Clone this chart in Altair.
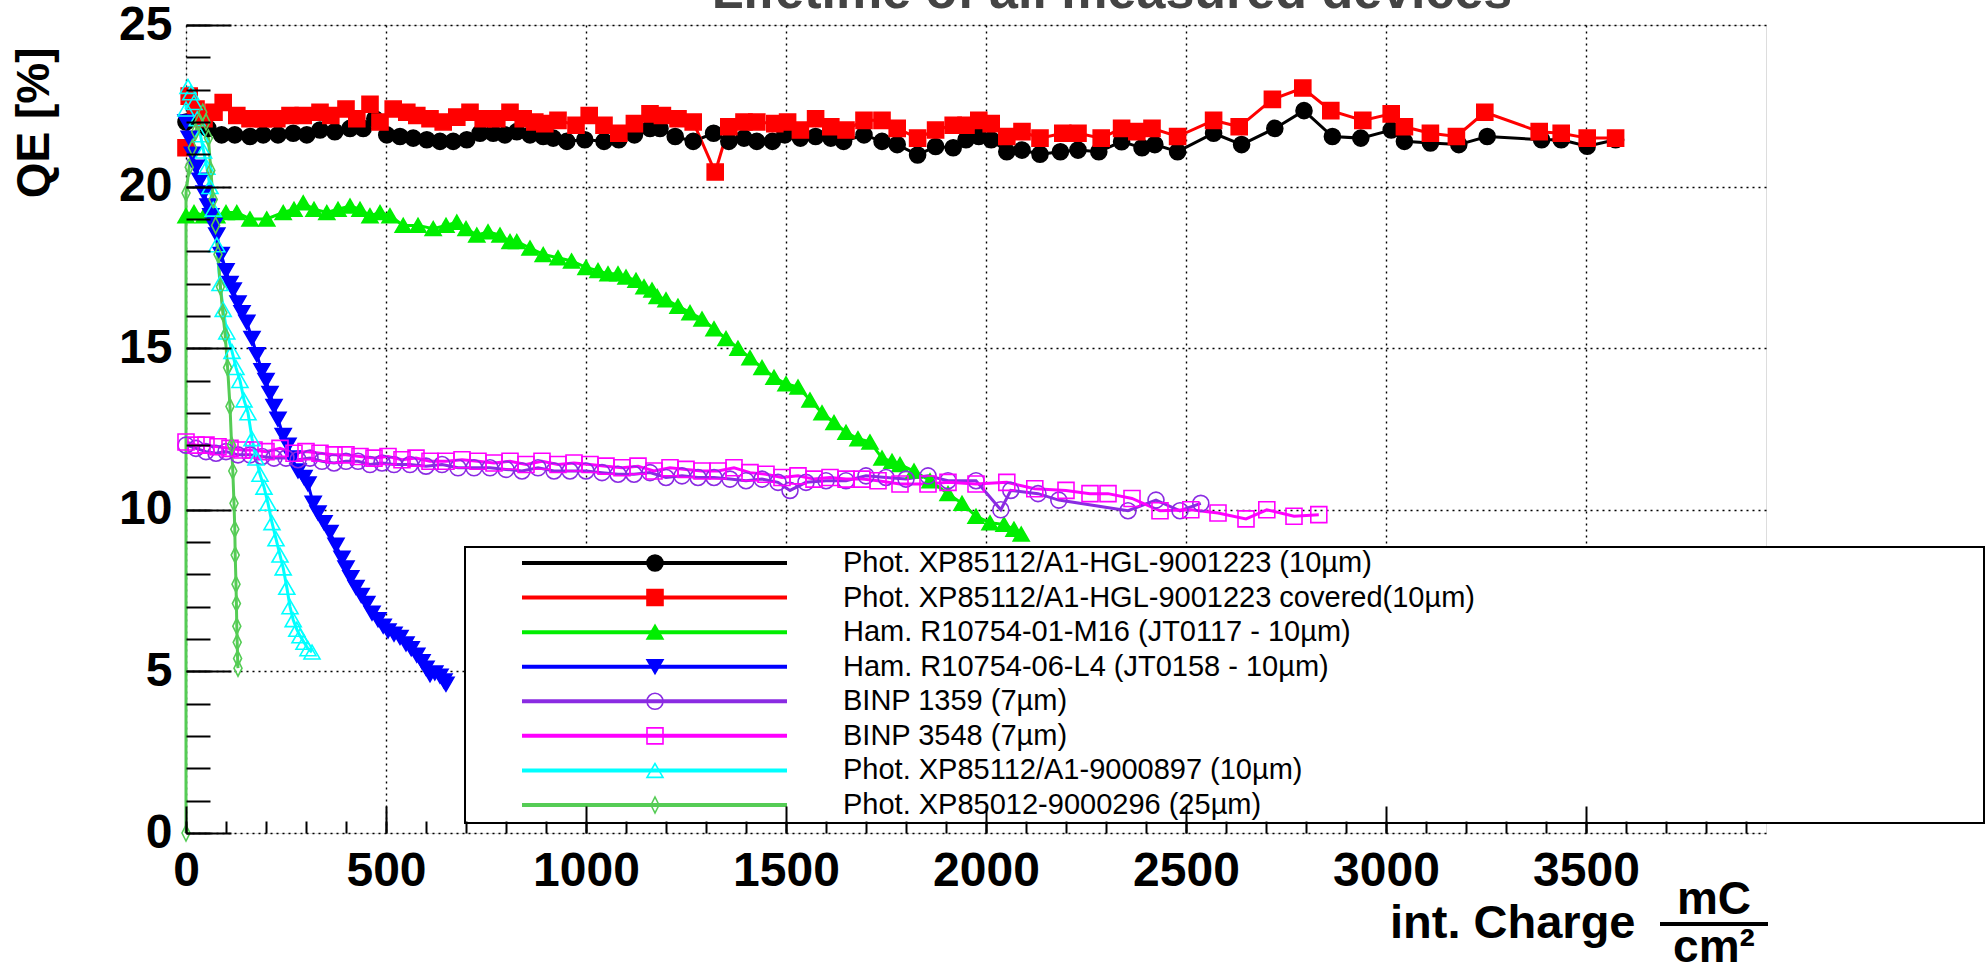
import altair as alt
import pandas as pd

# ---------------- data ----------------
TITLE = "Lifetime of all measured devices"
SERIES = [
    "Phot. XP85112/A1-HGL-9001223 (10µm)",
    "Phot. XP85112/A1-HGL-9001223 covered(10µm)",
    "Ham. R10754-01-M16 (JT0117 - 10µm)",
    "Ham. R10754-06-L4 (JT0158 - 10µm)",
    "BINP 1359 (7µm)",
    "BINP 3548 (7µm)",
    "Phot. XP85112/A1-9000897 (10µm)",
    "Phot. XP85012-9000296 (25µm)",
]
COLORS = ["#000000", "#ff0000", "#00ee00", "#0000ff", "#8a2be2", "#ff00ff", "#00ffff", "#55cc55"]
THIN_DIAMOND = "M0,-1L0.5,0L0,1L-0.5,0Z"
SHAPES = ["circle", "square", "triangle-up", "triangle-down", "circle", "square", "triangle-up", THIN_DIAMOND]
FILLED = [True, True, True, True, False, False, False, False]
SIZES = [256, 256, 144, 144, 225, 225, 289, 144]

BLACK = [(0, 22.0), (25, 22.2), (55, 21.8), (89, 21.6), (122, 21.6), (160, 21.55), (193, 21.6), (230, 21.6),
         (268, 21.65), (302, 21.6), (335, 21.75), (372, 21.7), (410, 21.8), (443, 21.8), (472, 22.1), (502, 21.6),
         (535, 21.55), (568, 21.5), (602, 21.45), (635, 21.4), (668, 21.4), (702, 21.45), (735, 21.65), (768, 21.65),
         (797, 21.6), (827, 21.7), (860, 21.6), (893, 21.55), (918, 21.5), (952, 21.4), (997, 21.45), (1045, 21.4),
         (1082, 21.45), (1121, 21.6), (1160, 21.8), (1185, 21.8), (1223, 21.55), (1268, 21.4), (1319, 21.65),
         (1357, 21.4), (1395, 21.5), (1427, 21.4), (1466, 21.4), (1497, 21.6), (1536, 21.5), (1574, 21.55),
         (1612, 21.5), (1644, 21.4), (1695, 21.6), (1740, 21.4), (1778, 21.3), (1829, 20.98), (1874, 21.24),
         (1918, 21.2), (1950, 21.45), (1982, 21.55), (2013, 21.45), (2052, 21.08), (2090, 21.13), (2135, 21.0),
         (2186, 21.08), (2230, 21.13), (2282, 21.08), (2339, 21.39), (2390, 21.2), (2422, 21.3), (2479, 21.08),
         (2569, 21.65), (2639, 21.3), (2722, 21.8), (2795, 22.35), (2866, 21.55), (2937, 21.5), (3013, 21.75),
         (3046, 21.4), (3111, 21.35), (3182, 21.3), (3253, 21.55), (3389, 21.45), (3438, 21.45), (3503, 21.25),
         (3574, 21.45)]

RED = [(0, 21.2), (8, 22.8), (25, 22.4), (45, 22.1), (70, 22.3), (93, 22.6), (127, 22.2), (160, 22.1), (193, 22.1),
       (227, 22.1), (260, 22.2), (293, 22.2), (335, 22.3), (362, 22.2), (400, 22.4), (427, 22.1), (460, 22.55),
       (485, 22.0), (518, 22.4), (552, 22.3), (577, 22.2), (610, 22.1), (643, 22.0), (677, 22.15), (710, 22.3),
       (743, 22.1), (777, 22.1), (810, 22.3), (843, 22.1), (872, 22.0), (897, 21.95), (930, 22.05), (975, 21.9),
       (1008, 22.2), (1045, 21.9), (1082, 21.65), (1121, 21.95), (1160, 22.25), (1191, 22.2), (1230, 22.1),
       (1268, 22.0), (1323, 20.45), (1357, 21.85), (1395, 22.0), (1427, 22.0), (1472, 21.95), (1504, 22.0),
       (1536, 21.75), (1574, 22.1), (1612, 21.85), (1650, 21.75), (1695, 22.05), (1740, 22.05), (1778, 21.8),
       (1829, 21.5), (1874, 21.75), (1918, 21.9), (1950, 21.9), (1982, 22.05), (2013, 21.95), (2052, 21.55),
       (2090, 21.7), (2135, 21.5), (2192, 21.65), (2230, 21.65), (2288, 21.5), (2339, 21.8), (2377, 21.7),
       (2415, 21.8), (2479, 21.55), (2569, 22.05), (2633, 21.85), (2716, 22.7), (2792, 23.05), (2862, 22.35),
       (2942, 22.05), (3013, 22.25), (3046, 21.85), (3111, 21.65), (3176, 21.55), (3247, 22.3), (3383, 21.7),
       (3438, 21.65), (3503, 21.5), (3574, 21.5)]

GREEN = [(0, 19.1), (20, 19.2), (45, 19.1), (77, 19.1), (100, 19.2), (127, 19.2), (160, 19.0), (202, 19.0),
         (243, 19.2), (270, 19.3), (293, 19.5), (320, 19.3), (352, 19.2), (380, 19.3), (410, 19.4), (435, 19.3),
         (460, 19.1), (485, 19.2), (510, 19.1), (543, 18.8), (580, 18.8), (618, 18.7), (650, 18.8), (677, 18.9),
         (700, 18.7), (727, 18.5), (755, 18.6), (785, 18.5), (810, 18.3), (827, 18.3), (860, 18.1), (893, 17.9),
         (930, 17.8), (964, 17.7), (1000, 17.5), (1030, 17.4), (1055, 17.3), (1080, 17.3), (1100, 17.2),
         (1125, 17.1), (1145, 16.9), (1165, 16.8), (1178, 16.6), (1200, 16.5), (1230, 16.3), (1260, 16.1),
         (1290, 15.9), (1320, 15.6), (1350, 15.3), (1380, 15.0), (1410, 14.7), (1440, 14.4), (1470, 14.1),
         (1500, 13.9), (1530, 13.8), (1560, 13.4), (1590, 13.0), (1620, 12.7), (1650, 12.4), (1680, 12.2),
         (1710, 12.1), (1740, 11.6), (1765, 11.5), (1785, 11.4), (1820, 11.2), (1860, 10.9), (1905, 10.5),
         (1940, 10.2), (1975, 9.8), (2010, 9.6), (2045, 9.55), (2070, 9.4), (2088, 9.25)]

BLUE = [(0, 22.0), (8, 21.5), (16, 21.0), (25, 20.6), (35, 20.2), (45, 19.8), (55, 19.4), (62, 19.1), (70, 18.8),
        (77, 18.5), (88, 17.9), (100, 17.4), (110, 17.0), (118, 16.8), (130, 16.4), (140, 16.1), (152, 15.8),
        (165, 15.3), (177, 14.8), (190, 14.3), (200, 14.0), (210, 13.6), (220, 13.2), (230, 12.8), (243, 12.3),
        (255, 12.0), (265, 11.6), (280, 11.2), (295, 11.0), (305, 10.8), (318, 10.2), (330, 9.9), (345, 9.6),
        (360, 9.3), (375, 8.9), (390, 8.5), (400, 8.2), (412, 7.9), (425, 7.6), (438, 7.35), (452, 7.1),
        (465, 6.8), (480, 6.6), (493, 6.4), (505, 6.25), (520, 6.15), (535, 6.05), (550, 5.85), (563, 5.7),
        (577, 5.5), (590, 5.3), (600, 5.1), (610, 4.9), (622, 4.95), (635, 4.85), (645, 4.7), (650, 4.6)]

PURPLE = [(0, 12.0), (25, 11.9), (50, 11.8), (75, 11.75), (100, 11.8), (130, 11.7), (160, 11.7), (190, 11.65),
          (220, 11.6), (250, 11.6), (280, 11.55), (310, 11.6), (340, 11.5), (370, 11.45), (400, 11.5), (430, 11.5),
          (460, 11.4), (490, 11.45), (520, 11.4), (560, 11.4), (600, 11.35), (640, 11.4), (680, 11.3), (720, 11.3),
          (760, 11.3), (800, 11.25), (840, 11.2), (880, 11.3), (920, 11.2), (960, 11.2), (1000, 11.2),
          (1040, 11.15), (1080, 11.1), (1120, 11.1), (1160, 11.15), (1200, 11.0), (1240, 11.05), (1280, 11.0),
          (1320, 11.0), (1360, 10.95), (1400, 10.9), (1440, 10.95), (1480, 10.85), (1510, 10.6), (1550, 10.85),
          (1600, 10.9), (1650, 10.9), (1700, 11.05), (1750, 11.0), (1800, 10.95), (1855, 11.05), (1905, 10.9),
          (1975, 10.9), (2037, 10.0), (2062, 10.6), (2130, 10.5), (2182, 10.3), (2355, 9.97), (2425, 10.3),
          (2485, 9.97), (2537, 10.2)]

MAGENTA = [(0, 12.1), (25, 12.0), (50, 12.0), (80, 11.95), (110, 11.9), (140, 11.85), (170, 11.85), (200, 11.8),
           (235, 11.9), (270, 11.75), (300, 11.8), (335, 11.75), (370, 11.7), (400, 11.7), (435, 11.65),
           (470, 11.6), (505, 11.65), (540, 11.55), (575, 11.6), (610, 11.5), (650, 11.5), (690, 11.55),
           (730, 11.5), (770, 11.45), (810, 11.5), (850, 11.4), (890, 11.5), (930, 11.4), (970, 11.45),
           (1010, 11.4), (1050, 11.35), (1090, 11.3), (1130, 11.35), (1170, 11.2), (1210, 11.3), (1250, 11.25),
           (1290, 11.2), (1330, 11.2), (1370, 11.3), (1410, 11.15), (1450, 11.1), (1490, 11.0), (1530, 11.05),
           (1570, 10.95), (1610, 11.0), (1650, 10.95), (1690, 10.95), (1730, 10.9), (1785, 10.8), (1855, 10.8),
           (1905, 10.85), (1975, 10.8), (2052, 10.85), (2122, 10.65), (2200, 10.6), (2260, 10.5), (2305, 10.5),
           (2365, 10.35), (2435, 9.97), (2512, 10.0), (2580, 9.9), (2650, 9.72), (2702, 10.0), (2770, 9.8),
           (2832, 9.85)]

CYAN = [(0, 22.4), (5, 23.1), (12, 22.9), (20, 22.6), (28, 22.1), (36, 21.6), (44, 21.1), (52, 20.6), (60, 20.0),
        (68, 19.3), (77, 18.2), (85, 17.0), (93, 16.2), (102, 15.5), (115, 14.9), (125, 14.4), (135, 14.0),
        (145, 13.4), (155, 13.0), (165, 12.2), (175, 11.6), (185, 11.1), (195, 10.7), (205, 10.2), (215, 9.6),
        (225, 9.1), (235, 8.6), (243, 8.2), (252, 7.6), (260, 7.0), (268, 6.6), (277, 6.3), (285, 6.1),
        (295, 5.9), (305, 5.7), (315, 5.6)]

THIN_GREEN = [(0, 0.0), (0, 19.8), (8, 20.6), (16, 21.2), (24, 21.7), (32, 22.0), (42, 22.3), (50, 22.0),
              (56, 21.5), (62, 20.5), (68, 19.6), (74, 18.8), (80, 17.9), (86, 16.9), (92, 16.1), (98, 15.4),
              (104, 14.4), (110, 13.2), (114, 12.0), (117, 11.2), (120, 10.2), (122, 9.4), (123, 8.6),
              (125, 7.7), (126, 7.1), (127, 6.4), (128, 5.9), (129, 5.4), (130, 5.1)]

X_LABELS = [0, 500, 1000, 1500, 2000, 2500, 3000, 3500]
X_MINOR = list(range(0, 4000, 100))
Y_LABELS = [0, 5, 10, 15, 20, 25]
Y_MINOR = list(range(0, 26))

# ---------------- build ----------------
rows = []
for name, pts in zip(SERIES, [BLACK, RED, GREEN, BLUE, PURPLE, MAGENTA, CYAN, THIN_GREEN]):
    for i, (x, y) in enumerate(pts):
        rows.append({"series": name, "x": x, "y": y, "i": i})
df = pd.DataFrame(rows)
leg = pd.DataFrame({"series": SERIES})

W, H = 1580, 808
XMAX, YMAX = 3950, 25
FONT = "Liberation Sans"

xs = alt.Scale(domain=[0, XMAX], nice=False, zero=False)
ys = alt.Scale(domain=[0, YMAX], nice=False, zero=False)
color_scale = alt.Scale(domain=SERIES, range=COLORS)
fill_scale = alt.Scale(domain=SERIES, range=[c if f else "transparent" for c, f in zip(COLORS, FILLED)])
shape_scale = alt.Scale(domain=SERIES, range=SHAPES)
size_scale = alt.Scale(domain=SERIES, range=SIZES)

grid_kw = dict(grid=True, gridColor="black", gridDash=[2, 4], gridWidth=1.4, gridOpacity=1)
lab_kw = dict(labelFont=FONT, labelFontSize=48, labelFontWeight="bold", labelColor="black",
              labelPadding=14, labelFlush=False, labelOverlap=False)

ax_x_main = alt.Axis(values=X_LABELS, format="d", ticks=False, tickSize=0, domain=False, **grid_kw, **lab_kw,
                     title="int. Charge", titleFont=FONT, titleFontSize=47, titleFontWeight="bold",
                     titleColor="black", titleX=1449, titleY=104, titleAlign="right",
                     titleBaseline="alphabetic")
ax_y_main = alt.Axis(values=Y_LABELS, format="d", ticks=False, tickSize=0, domain=False, **grid_kw, **lab_kw,
                     title="QE [%]", titleFont=FONT, titleFontSize=46, titleFontWeight="bold",
                     titleColor="black", titleAngle=270, titleX=-152, titleY=22, titleAlign="right",
                     titleBaseline="middle")
tick_kw = dict(labels=False, domain=False, grid=False, title=None, tickColor="black", tickWidth=2, zindex=1)
ax_x_major = alt.Axis(orient="top", offset=-H, values=X_LABELS, tickSize=27, **tick_kw)
ax_x_minor = alt.Axis(orient="top", offset=-H, values=X_MINOR, tickSize=12, **tick_kw)
ax_y_major = alt.Axis(orient="right", offset=-W, values=Y_LABELS, tickSize=45, **tick_kw)
ax_y_minor = alt.Axis(orient="right", offset=-W, values=Y_MINOR, tickSize=24, **tick_kw)

base = alt.Chart(df)
lines = base.mark_line(strokeWidth=3).encode(
    x=alt.X("x:Q", scale=xs, axis=ax_x_main),
    y=alt.Y("y:Q", scale=ys, axis=ax_y_main),
    color=alt.Color("series:N", scale=color_scale, legend=None),
    order="i:Q",
)
points = base.mark_point(strokeWidth=1.6, opacity=1).encode(
    x=alt.X("x:Q", scale=xs, axis=ax_x_major),
    y=alt.Y("y:Q", scale=ys, axis=ax_y_major),
    color=alt.Color("series:N", scale=color_scale, legend=None),
    fill=alt.Fill("series:N", scale=fill_scale, legend=None),
    shape=alt.Shape("series:N", scale=shape_scale, legend=None),
    size=alt.Size("series:N", scale=size_scale, legend=None),
)
minor = base.transform_filter("false").mark_point().encode(
    x=alt.X("x:Q", scale=xs, axis=ax_x_minor),
    y=alt.Y("y:Q", scale=ys, axis=ax_y_minor),
)

# ---------------- legend (box + entries) ----------------
one = alt.Data(values=[{}])
leg_box = alt.Chart(one).mark_rect(fill="white", stroke="black", strokeWidth=2).encode(
    x=alt.value(279), x2=alt.value(1798), y=alt.value(522), y2=alt.value(798))
ly = alt.Y("series:N", scale=alt.Scale(type="point", domain=SERIES, range=[538, 780], padding=0), axis=None)
lchart = alt.Chart(leg)
leg_lines = lchart.mark_rule(strokeWidth=4).encode(
    x=alt.value(336), x2=alt.value(601), y=ly,
    color=alt.Color("series:N", scale=color_scale, legend=None))
leg_pts = lchart.mark_point(strokeWidth=1.6, opacity=1).encode(
    x=alt.value(469), y=ly,
    color=alt.Color("series:N", scale=color_scale, legend=None),
    fill=alt.Fill("series:N", scale=fill_scale, legend=None),
    shape=alt.Shape("series:N", scale=shape_scale, legend=None),
    size=alt.Size("series:N", scale=size_scale, legend=None))
leg_text = lchart.mark_text(align="left", baseline="middle", font=FONT, fontSize=29, color="black").encode(
    x=alt.value(657), y=ly, text="series:N")

# ---------------- title (cut by the top edge) and unit fraction of the x title ----------------
title_mark = alt.Chart(one).mark_text(text=TITLE, font=FONT, fontSize=52, fontWeight="bold", align="center",
                                      baseline="alphabetic", color="#444444").encode(
    x=alt.value(926), y=alt.value(-17))
frac_num = alt.Chart(one).mark_text(text="mC", font=FONT, fontSize=46, fontWeight="bold", align="center",
                                    baseline="alphabetic", color="black").encode(
    x=alt.value(1528), y=alt.value(889))
frac_bar = alt.Chart(one).mark_rule(strokeWidth=4, color="black").encode(
    x=alt.value(1474), x2=alt.value(1582), y=alt.value(899))
frac_den = alt.Chart(one).mark_text(text="cm²", font=FONT, fontSize=46, fontWeight="bold", align="center",
                                    baseline="alphabetic", color="black").encode(
    x=alt.value(1528), y=alt.value(937))

chart = alt.layer(
    lines, points, minor, leg_box, leg_lines, leg_pts, leg_text, title_mark, frac_num, frac_bar, frac_den
).resolve_scale(y="independent").resolve_axis(x="independent", y="independent").properties(
    width=W, height=H,
    autosize=alt.AutoSizeParams(type="none"),
    padding={"left": 186, "top": 25, "right": 222, "bottom": 138},
).configure_view(stroke="black", strokeWidth=2.5).configure(background="white")

chart.save("out.html", embed_options={"renderer": "svg", "actions": False})
